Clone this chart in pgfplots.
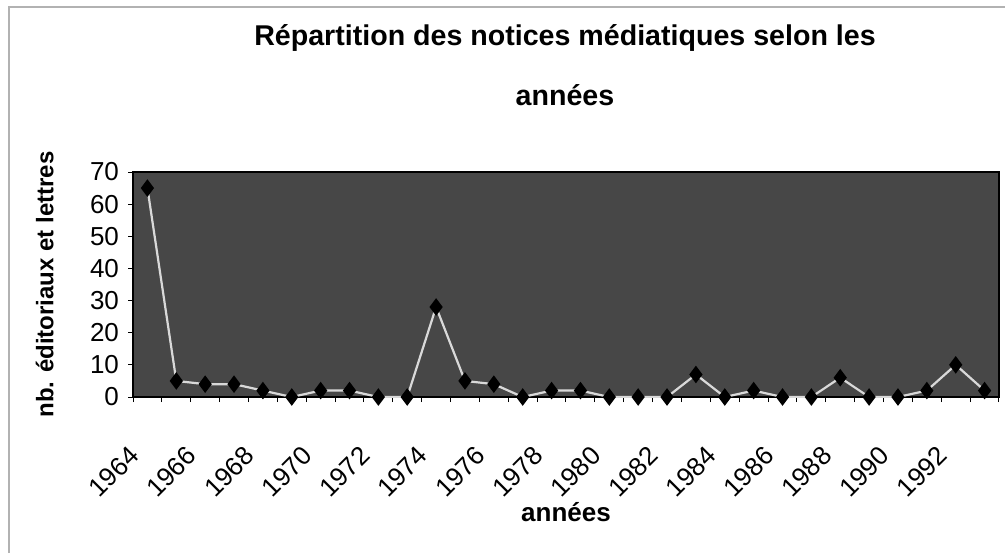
\documentclass[border=0pt]{standalone}
\usepackage{fontspec}
\setmainfont{Liberation Sans}
\usepackage{pgfplots}
\pgfplotsset{compat=1.18}
\begin{document}
\begin{tikzpicture}[x=1pt,y=1pt]
\useasboundingbox (0,0) rectangle (502.5,276.5);
\draw[gray!60, line width=0.75pt] (4.5,0) -- (4.5,273) -- (502.5,273);
\node[font=\fontsize{14.3}{16}\selectfont\bfseries] at (282.5,257.5) {Répartition des notices médiatiques selon les};
\node[font=\fontsize{14.3}{16}\selectfont\bfseries] at (282.5,229) {années};
\begin{axis}[
  at={(66.5pt,78pt)}, anchor=south west,
  scale only axis, width=433pt, height=112.5pt,
  xmin=1963.5, xmax=1993.5, ymin=0, ymax=70,
  ytick={0,10,...,70},
  xtick={1964,1966,...,1992},
  minor xtick={1963.5,1964.5,...,1993.5},
  major x tick style={draw=none},
  tick align=outside, tick pos=left,
  major tick length=2.5pt, minor tick length=2.5pt,
  axis background/.style={fill=black!72},
  axis line style={black, line width=0.6pt},
  tick style={black, line width=0.5pt},
  /pgf/number format/assume math mode=true,
  /pgf/number format/1000 sep={},
  tick label style={font=\fontsize{13}{15}\selectfont},
  yticklabel style={xshift=-1pt},
  xticklabel style={inner sep=0pt, xshift=-6.5pt, yshift=-24.5pt, rotate=45, anchor=east},
  xlabel={années},
  ylabel={nb. éditoriaux et lettres},
  label style={font=\fontsize{12}{14}\selectfont\bfseries},
  xlabel style={at={(axis description cs:0.5,-0.511)}, anchor=center, font=\fontsize{13}{15}\selectfont\bfseries},
  ylabel style={at={(axis description cs:-0.102,0.5)}, anchor=center, rotate=0},
]
\addplot[white!85!black, line width=1.1pt, mark=diamond*, mark size=3.5pt,
  mark options={black, fill=black}] coordinates {
(1964,65) (1965,5) (1966,4) (1967,4) (1968,2) (1969,0) (1970,2) (1971,2)
(1972,0) (1973,0) (1974,28) (1975,5) (1976,4) (1977,0) (1978,2) (1979,2)
(1980,0) (1981,0) (1982,0) (1983,7) (1984,0) (1985,2) (1986,0) (1987,0)
(1988,6) (1989,0) (1990,0) (1991,2) (1992,10) (1993,2)
};
\end{axis}
\end{tikzpicture}
\end{document}
